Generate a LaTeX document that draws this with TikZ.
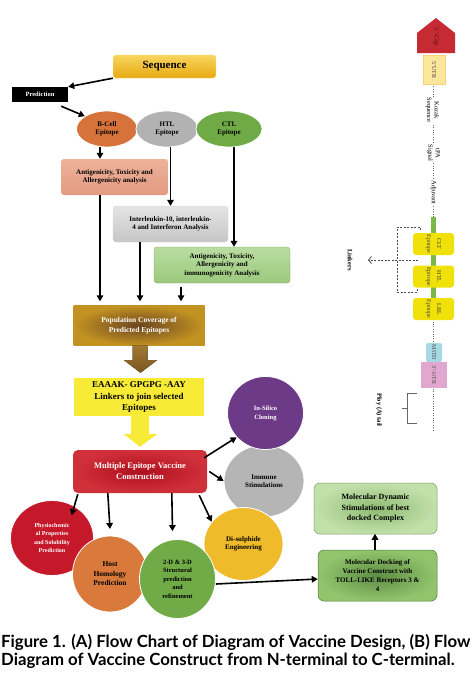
\documentclass[tikz,border=0pt]{standalone}
\usepackage{fontspec}
\usepackage{graphicx}
\setmainfont{Liberation Serif}
\newfontfamily\capfont{Lato}
\usetikzlibrary{arrows.meta,shapes.geometric,calc}
\definecolor{seqT}{HTML}{F8D55E}
\definecolor{seqB}{HTML}{E8A912}
\definecolor{bcellC}{HTML}{D5733A}
\definecolor{htlC}{HTML}{B2B2B2}
\definecolor{ctlC}{HTML}{6FAA46}
\definecolor{antT}{HTML}{EDB29B}
\definecolor{antB}{HTML}{E39A80}
\definecolor{ilT}{HTML}{E4E4E4}
\definecolor{ilB}{HTML}{C6C6C6}
\definecolor{grT}{HTML}{BADDA2}
\definecolor{grB}{HTML}{9BC97C}
\definecolor{popO}{HTML}{C39322}
\definecolor{popI}{HTML}{6B4520}
\definecolor{brT}{HTML}{A07A30}
\definecolor{brB}{HTML}{7A5422}
\definecolor{yelC}{HTML}{F7EB38}
\definecolor{redO}{HTML}{D0303A}
\definecolor{redI}{HTML}{B0101E}
\definecolor{purC}{HTML}{6C3A86}
\definecolor{grayC}{HTML}{B5B5B5}
\definecolor{diC}{HTML}{EFBB2A}
\definecolor{phyC}{HTML}{C5182A}
\definecolor{hostC}{HTML}{D97A3C}
\definecolor{tdC}{HTML}{70AB47}
\definecolor{dkO}{HTML}{92C46D}
\definecolor{dkI}{HTML}{5E8D44}
\definecolor{mdO}{HTML}{C2E0AA}
\definecolor{mdI}{HTML}{8EBB72}
\definecolor{capR}{HTML}{C62A33}
\definecolor{utrY}{HTML}{FBE69C}
\definecolor{epiY}{HTML}{F0E10A}
\definecolor{linkG}{HTML}{7DB84A}
\definecolor{mitdC}{HTML}{A8D8E3}
\definecolor{utr3C}{HTML}{E2A7CE}
\begin{document}
\begin{tikzpicture}[x=1pt,y=-1pt,
  arr/.style={-{Triangle[length=6pt,width=6.5pt]},line width=1.6pt},
  rbox/.style={rectangle,rounded corners=3pt,align=center,inner sep=1pt,font=\bfseries\fontsize{7}{8.5}\selectfont},
  ell/.style={ellipse,draw=white,line width=0.8pt,align=center,inner sep=0pt,font=\bfseries\fontsize{7}{8.5}\selectfont},
  vtext/.style={rotate=-90,align=center,inner sep=0.8pt,font=\fontsize{6.5}{7.5}\selectfont},
  epibox/.style={rectangle,rounded corners=3pt,fill=epiY,rotate=-90,align=center,inner sep=0pt,
     minimum width=22,minimum height=41,text=black!75,font=\fontsize{6}{10}\selectfont},
  spine/.style={draw=black!60,line width=0.9pt,dash pattern=on 1pt off 1.4pt},
  link/.style={draw=black!70,line width=0.8pt,dash pattern=on 2pt off 1.5pt}]
\useasboundingbox (0,0) rectangle (472,697);
\fill[white] (0,0) rectangle (472,697);

% ---------- Flow chart (A) ----------
\node[rbox,top color=seqT,bottom color=seqB,draw=seqT!70!white,minimum width=103,minimum height=23,
  font=\bfseries\fontsize{11}{12}\selectfont] (seq) at (164.5,66.5) {Sequence};
\node[rectangle,fill=black,text=white,minimum width=56,minimum height=15,inner sep=0pt,
  font=\bfseries\fontsize{6.5}{7}\selectfont] (pred) at (40,94.5) {Prediction};
\node[ell,fill=bcellC,minimum width=61,minimum height=36] (bcell) at (107,129) {B-Cell\\Epitope};
\node[ell,fill=htlC,minimum width=62,minimum height=36] (htl) at (167,129) {HTL\\Epitope};
\node[ell,fill=ctlC,minimum width=66,minimum height=36] (ctl) at (229,129) {CTL\\Epitope};
\node[rbox,top color=antT,bottom color=antB,minimum width=107,minimum height=36] (antig) at (114.5,177)
  {Antigenicity, Toxicity and\\Allergenicity analysis};
\node[rbox,top color=ilT,bottom color=ilB,draw=black!15,minimum width=115,minimum height=36] (il) at (170.5,224)
  {Interleukin-10, interleukin-\\4 and Interferon Analysis};
\node[rbox,top color=grT,bottom color=grB,draw=grB!80!black,line width=0.3pt,minimum width=136,minimum height=36] (grbox) at (222,265)
  {Antigenicity, Toxicity,\\Allergenicity and\\immunogenicity Analysis};
\node[rbox,rounded corners=0pt,inner color=popI,outer color=popO,text=white,minimum width=131,minimum height=40,
  font=\bfseries\fontsize{7.5}{9.5}\selectfont] (pop) at (139,325.5) {Population Coverage of\\Predicted Epitopes};
\node[rbox,rounded corners=0pt,fill=yelC,minimum width=130,minimum height=38,inner sep=0pt,
  font=\bfseries\fontsize{9}{11.5}\selectfont] (lnk) at (139,397) {EAAAK- GPGPG -AAY\\Linkers to join selected\\Epitopes};
\node[rbox,rounded corners=5pt,inner color=redI,outer color=redO,text=white,minimum width=134,minimum height=43,
  font=\bfseries\fontsize{8.5}{11}\selectfont] (mevc) at (140,471.5) {Multiple Epitope Vaccine\\Construction};

\draw[arr] (seq.south west) -- (pred.north east);
\draw[arr] ($(pred.south east)+(-7,4)$) -- (bcell.150);
\draw[arr] ($(bcell.south)+(-7,0)$) -- ($(antig.north)+(-14.5,0)$);
\draw[arr] (htl.south -| il.north) -- (il.north);
\draw[arr] ($(ctl.south)+(5,0)$) -- ($(grbox.north)+(12,0)$);
\draw[arr] ($(antig.south)+(-14.5,0)$) -- ($(pop.north)+(-39,-4)$);
\draw[arr] ($(il.south)+(-30.5,0)$) -- ($(pop.north)+(1,-4)$);
\draw[arr] ($(grbox.south)+(-41,4)$) -- ($(pop.north)+(42,-4)$);

% block arrows
\fill[top color=brT,bottom color=brB]
  ($(pop.south)+(-6.5,0)$) -- ($(pop.south)+(8.5,0)$) -- ($(pop.south)+(8.5,14.5)$) -- ($(pop.south)+(18,14.5)$)
  -- ($(lnk.north)+(1.5,-5)$) -- ($(pop.south)+(-15,14.5)$) -- ($(pop.south)+(-6.5,14.5)$) -- cycle;
\fill[yelC]
  ($(lnk.south)+(-8,0)$) -- ($(lnk.south)+(10,0)$) -- ($(lnk.south)+(10,18)$) -- ($(lnk.south)+(18,18)$)
  -- ($(mevc.north)+(0,-3)$) -- ($(lnk.south)+(-15,18)$) -- ($(lnk.south)+(-8,18)$) -- cycle;

% circles
\node[ell,fill=grayC,minimum width=80,minimum height=72] (imm) at (264,481) {Immune\\Stimulations};
\node[ell,fill=purC,text=white,minimum width=76,minimum height=73,font=\bfseries\fontsize{6.5}{9}\selectfont] (isc) at (265.5,413) {In-Silico\\Cloning};
\node[ell,fill=diC,minimum width=79,minimum height=73] (dis) at (243.5,544) {Di-sulphide\\Engineering};
\node[ell,fill=phyC,text=white,minimum width=83,minimum height=75,font=\bfseries\fontsize{6}{8.5}\selectfont] (phy) at (52,538)
  {Physiochemic\\al Properties\\and Solubility\\Prediction};
\node[ell,fill=hostC,minimum width=75,minimum height=76,font=\bfseries\fontsize{7.5}{9.5}\selectfont] (host) at (110,574)
  {Host\\Homology\\Prediction};
\node[ell,fill=tdC,minimum width=76,minimum height=79,font=\bfseries\fontsize{6.5}{8.5}\selectfont] (td) at (177.5,579)
  {2-D \& 3-D\\Structural\\prediction\\and\\refinement};

\node[rbox,rounded corners=6pt,inner color=mdI,outer color=mdO,draw=mdI!85!black,line width=0.5pt,
  minimum width=123,minimum height=51,font=\bfseries\fontsize{8}{10.5}\selectfont] (md) at (375.5,508.5)
  {Molecular Dynamic\\Stimulations of best\\docked Complex};
\node[rbox,rounded corners=6pt,inner color=dkI,outer color=dkO,draw=dkI!85!black,line width=0.5pt,
  minimum width=119,minimum height=51,font=\bfseries\fontsize{7}{9}\selectfont] (dock) at (377.5,575.5)
  {Molecular Docking of\\Vaccine Construct with\\TOLL-LIKE Receptors 3 \&\\4};

\draw[arr] ($(mevc.north east)+(-3,8)$) -- (isc.220);
\draw[arr] ($(mevc.east)+(2,0)$) -- (imm.west);
\draw[arr] ($(mevc.south east)+(-8,2)$) -- (dis.145);
\draw[arr] ($(mevc.south west)+(5,1)$) -- ($(phy.north east)+(-10,4)$);
\draw[arr] ($(mevc.south west)+(35,0)$) -- (host.north |- 0,529);
\draw[arr] ($(mevc.south west)+(99,0)$) -- ($(td.north)+(-5,-8)$);
\draw[arr] ($(td.east)+(0,5)$) -- (dock.west |- td.east) ;
\draw[arr] (dock.north -| 375,0) -- ($(md.north -| 375,0)+(0,51)$);

% ---------- Construct (B) ----------
\coordinate (sptop) at (433.5,84);
\coordinate (spbot) at (433.5,430);
\draw[spine] (sptop) -- (spbot);
\fill[capR] (417,33) -- (436,18) -- (455,33) -- (455,53) -- (417,53) -- cycle;
\node[vtext,text=black!60!capR] (cap5) at (436,37) {5'-Cap};
\node[rectangle,rotate=-90,fill=utrY,draw=utrY!80!orange,line width=0.3pt,minimum width=29,minimum height=22,inner sep=0pt,
  font=\fontsize{6}{6.5}\selectfont,text=black!75] (utr5) at (434,69.5) {5'UTR};
\node[vtext,fill=white] (koz) at (432.5,110) {Kozak\\Sequence};
\node[vtext,fill=white] (tpa) at (433.5,153) {tPA\\Signal};
\node[vtext,fill=white] (adj) at (433.5,192.5) {Adjuvant};
\fill[linkG] (431,217) rectangle (436,298);
\node[epibox] (e1) at (433.5,244) {CLT\\Epitope};
\node[epibox] (e2) at (433.5,276.5) {HTL\\Epitope};
\node[epibox] (e3) at (433.5,309) {LBL\\Epitope};
\node[rectangle,rounded corners=2pt,rotate=-90,fill=mitdC,minimum width=19,minimum height=16,inner sep=0pt,
  font=\fontsize{6}{6.5}\selectfont,text=black!70] (mitd) at (434,352.5) {MITD};
\node[rectangle,rotate=-90,fill=utr3C,minimum width=26,minimum height=26,inner sep=0pt,
  font=\fontsize{6}{6.5}\selectfont,text=black!70] (utr3) at (434,375) {3'-UTR};

\coordinate (lkA) at (420,230);
\coordinate (lkB) at (417,289);
\coordinate (lkS) at (418,260);
\coordinate (lkE) at (368,260);
\draw[link] (lkA) -- (lkA |- 0,227) -- (397,227) -- (397,292) -- (lkB |- 0,292) -- (lkB);
\draw[link,-{Straight Barb[length=3pt,width=7pt,line width=0.8pt]}] (lkS) -- (lkE);
\node[vtext,font=\bfseries\fontsize{6.5}{7.5}\selectfont] (lkT) at (350,260) {Linkers};

\coordinate (brT) at (417,393);
\coordinate (brBt) at (417,423);
\draw[black!60,line width=0.8pt] (brT) -- (407,393) -- (407,423) -- (brBt);
\draw[black!60,line width=0.8pt] (407,408) -- (402,408);
\node[vtext,font=\bfseries\fontsize{6.5}{7.5}\selectfont] (poly) at (379,410) {Ploy (A) tail};

% ---------- Caption ----------
\node[anchor=west,inner sep=0pt] (cap) at (1,653)
  {\resizebox{469pt}{!}{\capfont\bfseries\fontsize{12}{14}\selectfont\begin{tabular}{@{}l@{}}Figure 1. (A) Flow Chart of Diagram of Vaccine Design, (B) Flow\\[-1pt]Diagram of Vaccine Construct from N-terminal to C-terminal.\end{tabular}}};
\end{tikzpicture}
\end{document}
